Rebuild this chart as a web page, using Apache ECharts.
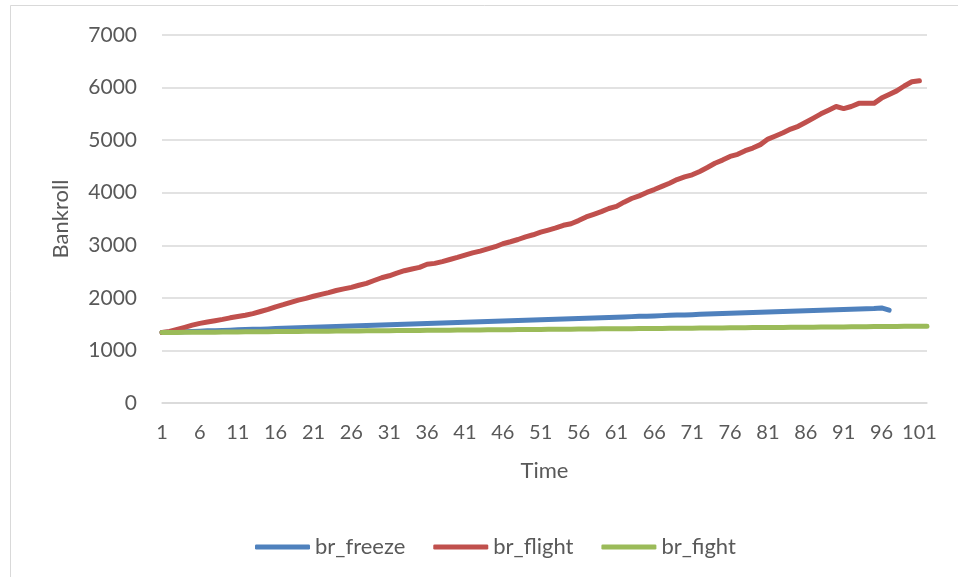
<!DOCTYPE html>
<html>
<head>
<meta charset="utf-8">
<script src="https://cdn.jsdelivr.net/npm/echarts@6/dist/echarts.min.js"></script>
<style>
html,body{margin:0;padding:0;background:#fff;}
#chart{width:958px;height:577px;}
</style>
</head>
<body>
<div id="chart"></div>
<script>
const categories = [];
for (let i = 1; i <= 102; i++) categories.push(String(i));

const brFreeze = [
1340,1345,1350,1355,1362,1367,1372,1376,1381,1386,
1391,1396,1401,1405,1410,1415,1420,1425,1430,1434,
1439,1444,1449,1454,1459,1463,1468,1473,1478,1483,
1488,1492,1497,1502,1507,1512,1517,1521,1526,1531,
1536,1541,1546,1550,1555,1560,1565,1570,1575,1579,
1584,1589,1594,1599,1604,1608,1613,1618,1623,1628,
1633,1638,1643,1648,1652,1657,1662,1667,1672,1676,
1681,1686,1691,1696,1701,1705,1710,1715,1720,1725,
1730,1734,1739,1744,1749,1754,1759,1763,1768,1773,
1778,1783,1788,1793,1798,1808,1765
];

const brFlight = [
1340,1360,1400,1440,1480,1515,1540,1565,1590,1620,
1645,1670,1700,1740,1780,1830,1870,1915,1957,1990,
2030,2067,2100,2140,2170,2200,2240,2276,2330,2383,
2420,2470,2516,2550,2580,2640,2656,2690,2730,2770,
2814,2855,2890,2930,2973,3030,3067,3110,3160,3200,
3250,3290,3330,3380,3410,3470,3540,3590,3640,3700,
3740,3820,3890,3940,4005,4060,4120,4180,4250,4300,
4340,4405,4480,4560,4620,4690,4730,4800,4850,4915,
5020,5080,5140,5210,5263,5340,5420,5500,5570,5640,
5600,5640,5700,5700,5700,5800,5870,5937,6030,6110,
6130
];

const brFight = [
1340,1341,1342,1344,1345,1346,1347,1348,1350,1351,
1352,1353,1354,1356,1357,1358,1359,1360,1362,1363,
1364,1365,1366,1368,1369,1370,1371,1372,1374,1375,
1376,1377,1378,1380,1381,1382,1383,1384,1386,1387,
1388,1389,1390,1392,1393,1394,1395,1396,1398,1399,
1400,1401,1402,1404,1405,1406,1407,1408,1410,1411,
1412,1413,1414,1416,1417,1418,1419,1420,1422,1423,
1424,1425,1426,1428,1429,1430,1431,1432,1434,1435,
1436,1437,1438,1440,1441,1442,1443,1444,1446,1447,
1448,1449,1450,1452,1453,1454,1455,1456,1458,1459,
1460,1461
];

const yMin = 0, yMax = 7000, yStep = 1000;
const FONT = 'Lato, "Open Sans", sans-serif';
const TXT = '#595959';

const chart = echarts.init(document.getElementById('chart'), null, {renderer: 'canvas'});

function lineSeries(name, data, color) {
  return {
    name: name,
    type: 'line',
    data: data,
    symbol: 'none',
    smooth: false,
    color: color,
    lineStyle: {width: 5, color: color, cap: 'round', join: 'round'},
    animation: false
  };
}

chart.setOption({
  animation: false,
  backgroundColor: '#fff',
  graphic: [{
    type: 'rect',
    shape: {x: 10.5, y: 5.5, width: 1000, height: 700},
    style: {fill: 'none', stroke: '#d9d9d9', lineWidth: 1},
    silent: true
  }],
  grid: {left: 162, right: 31, top: 35, bottom: 174, containLabel: false},
  xAxis: {
    type: 'category',
    data: categories,
    boundaryGap: false,
    name: 'Time',
    nameLocation: 'middle',
    nameGap: 57,
    nameTextStyle: {fontFamily: FONT, fontSize: 22, color: TXT},
    axisLine: {show: true, lineStyle: {color: '#d9d9d9', width: 1.5}},
    axisTick: {show: false},
    axisLabel: {interval: 4, margin: 20, fontFamily: FONT, fontSize: 20, color: TXT},
    splitLine: {show: false}
  },
  yAxis: {
    type: 'value',
    min: yMin, max: yMax, interval: yStep,
    name: 'Bankroll',
    nameLocation: 'middle',
    nameGap: 90,
    nameTextStyle: {fontFamily: FONT, fontSize: 22, color: TXT},
    axisLine: {show: false},
    axisTick: {show: false},
    axisLabel: {margin: 25, fontFamily: FONT, fontSize: 21, color: TXT, formatter: function (v) { return String(v); }},
    splitLine: {lineStyle: {color: '#d9d9d9', width: 1.5}}
  },
  legend: {
    top: 531,
    left: 250,
    icon: 'roundRect',
    itemWidth: 55,
    itemHeight: 5,
    itemGap: 28,
    textStyle: {fontFamily: FONT, fontSize: 22, color: TXT, padding: [0, 0, 0, 0]},
    data: ['br_freeze', 'br_flight', 'br_fight']
  },
  series: [
    lineSeries('br_freeze', brFreeze, '#4f81bd'),
    lineSeries('br_flight', brFlight, '#c0504d'),
    lineSeries('br_fight', brFight, '#9bbb59')
  ]
});
</script>
</body>
</html>
